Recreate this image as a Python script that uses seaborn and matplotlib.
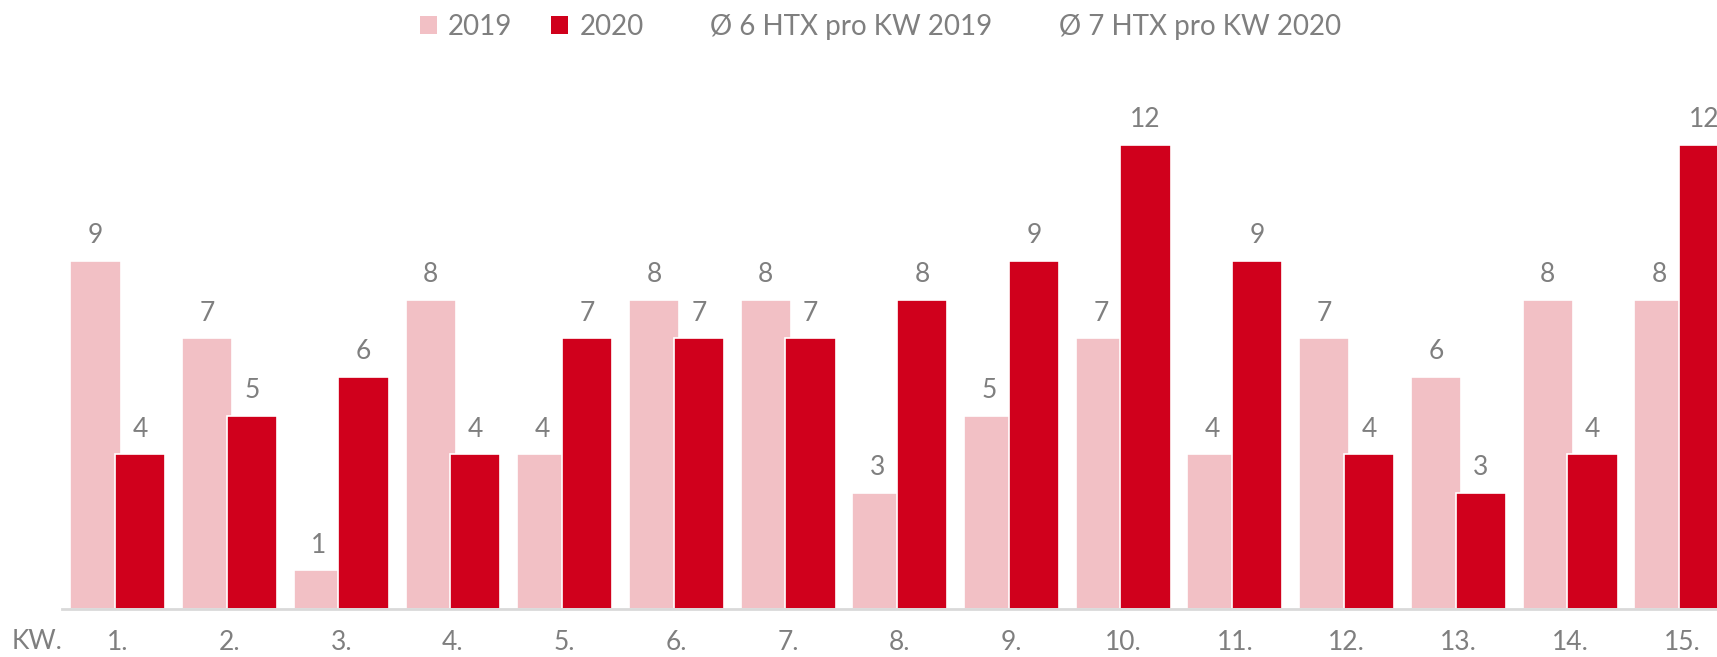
import pandas as pd
import numpy as np
import seaborn as sns
import matplotlib.pyplot as plt
from matplotlib.patches import Patch
from matplotlib.lines import Line2D

# --- dane ---
weeks = ["1.", "2.", "3.", "4.", "5.", "6.", "7.", "8.", "9.", "10.", "11.", "12.", "13.", "14.", "15."]
htx_2019 = [9, 7, 1, 8, 4, 8, 8, 3, 5, 7, 4, 7, 6, 8, 8]
htx_2020 = [4, 5, 6, 4, 7, 7, 7, 8, 9, 12, 9, 4, 3, 4, 12]
series_names = ["2019", "2020"]
avg_labels = ["Ø 6 HTX pro KW 2019", "Ø 7 HTX pro KW 2020"]

PINK = "#F2C0C5"
RED = "#D0001C"
GREY = "#7F7F7F"

df = pd.DataFrame({
    "week": weeks * 2,
    "htx": htx_2019 + htx_2020,
    "year": [series_names[0]] * len(weeks) + [series_names[1]] * len(weeks),
})

sns.set_theme(style="white")
plt.rcParams["font.family"] = ["Lato", "DejaVu Sans"]

fig = plt.figure(figsize=(17.17, 6.57), dpi=100)
ax = fig.add_axes([62 / 1717, 48 / 657, 1 - 62 / 1717, (609 - 90) / 657])

sns.barplot(data=df, x="week", y="htx", hue="year", order=weeks,
            hue_order=series_names, palette=[PINK, RED], width=0.8,
            saturation=1, legend=False, ax=ax)

# szersze slupki, lekko nachodzace na siebie
bar_w = 0.45
for p in ax.patches:
    cx = p.get_x() + p.get_width() / 2
    p.set_width(bar_w)
    p.set_x(cx - bar_w / 2)
    p.set_edgecolor("white")
    p.set_linewidth(1.2)

for cont in ax.containers:
    ax.bar_label(cont, padding=9, fontsize=19, color=GREY, clip_on=False)

ax.set_xlim(-0.5, 14.315)
ax.set_ylim(0, 13.42)
ax.set_xlabel("")
ax.set_ylabel("")
ax.set_yticks([])
sns.despine(ax=ax, left=True, right=True, top=True)
ax.spines["bottom"].set_color("#D9D9D9")
ax.spines["bottom"].set_linewidth(2)
ax.tick_params(axis="x", length=0, pad=15, labelsize=19, labelcolor=GREY)

ax.text(-0.72, -32 / 38.66, "KW.", fontsize=19, color=GREY,
        ha="center", va="center", clip_on=False)

handles = [Patch(facecolor=PINK, edgecolor="none"),
           Patch(facecolor=RED, edgecolor="none"),
           Line2D([], [], color="none"),
           Line2D([], [], color="none")]
fig.legend(handles, series_names + avg_labels, loc="center",
           bbox_to_anchor=(0.513, 1 - 27 / 657), ncol=4, frameon=False,
           fontsize=20, labelcolor=GREY, handlelength=0.6, handleheight=0.6,
           handletextpad=0.4, columnspacing=1.4)

fig.savefig("out.png", dpi=100)
